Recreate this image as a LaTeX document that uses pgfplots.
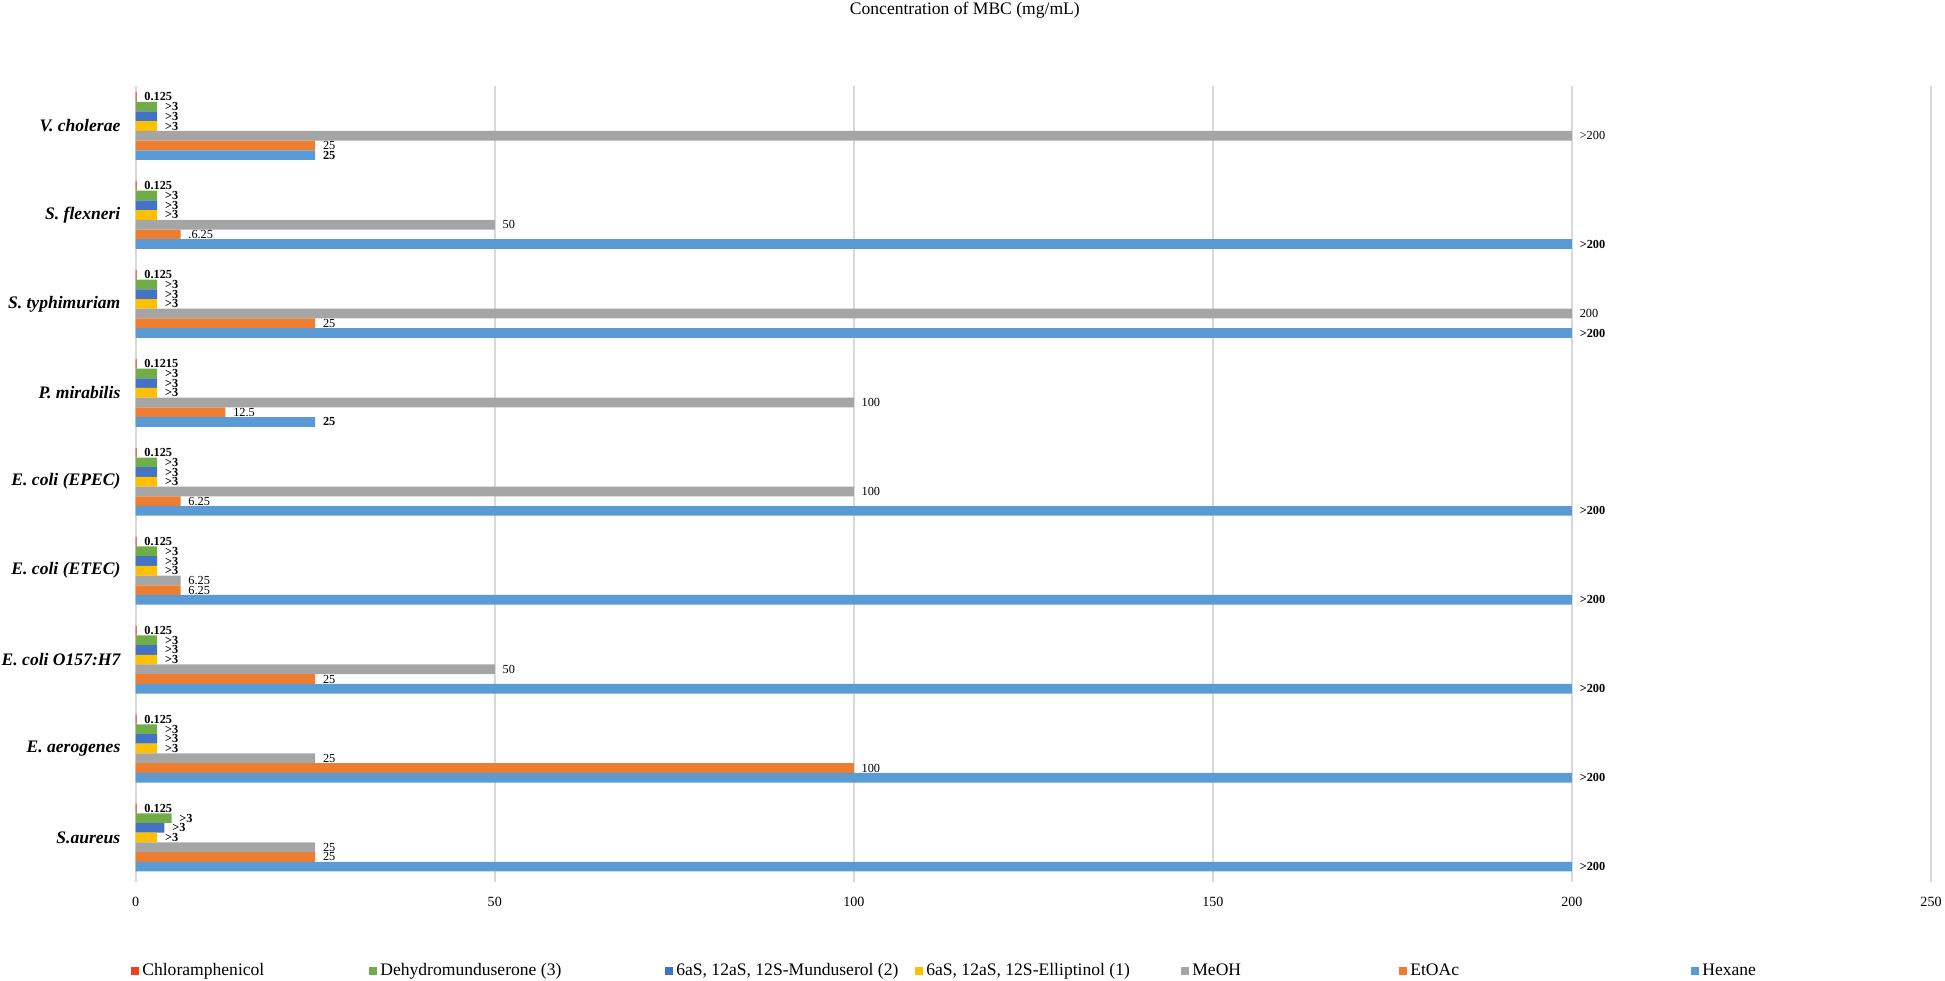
\documentclass[border=0pt]{standalone}
\usepackage{fontspec}
\setmainfont{Liberation Serif}
\usepackage{pgfplots}
\usepackage{pgfplotstable}
\pgfplotsset{compat=1.18}
\definecolor{hexc}{HTML}{5B9BD5}
\definecolor{etoc}{HTML}{ED7D31}
\definecolor{meoc}{HTML}{A5A5A5}
\definecolor{ellc}{HTML}{FFC000}
\definecolor{munc}{HTML}{4472C4}
\definecolor{dehc}{HTML}{70AD47}
\definecolor{chlc}{HTML}{F0401C}
\definecolor{gridc}{HTML}{D9D9D9}

% MBC values, mg/mL (">200" drawn at 200, ">3" drawn at bar length)
\pgfplotstableread{
y hex hexl eto etol meo meol ell elll mun munl deh dehl chl chll
0 200 >200 25 25 25 25 3 >3 4 >3 5 >3 0.125 0.125
1 200 >200 100 100 25 25 3 >3 3 >3 3 >3 0.125 0.125
2 200 >200 25 25 50 50 3 >3 3 >3 3 >3 0.125 0.125
3 200 >200 6.25 6.25 6.25 6.25 3 >3 3 >3 3 >3 0.125 0.125
4 200 >200 6.25 6.25 100 100 3 >3 3 >3 3 >3 0.125 0.125
5 25 25 12.5 12.5 100 100 3 >3 3 >3 3 >3 0.125 0.1215
6 200 >200 25 25 200 200 3 >3 3 >3 3 >3 0.125 0.125
7 200 >200 6.25 .6.25 50 50 3 >3 3 >3 3 >3 0.125 0.125
8 25 25 25 25 200 >200 3 >3 3 >3 3 >3 0.125 0.125
}\mic

\begin{document}
\begin{tikzpicture}
\begin{axis}[name=ax, scale only axis, width=359.06mm, height=159.2mm,
xbar=0pt, bar width=1.94mm,
xmin=0, xmax=250, ymin=-0.5, ymax=8.45,
xtick={0,50,...,250}, ytick={0,...,8},
yticklabels={S.aureus, E. aerogenes, E. coli O157:H7, E. coli (ETEC), E. coli (EPEC), P. mirabilis, S. typhimuriam, S. flexneri, V. cholerae},
axis line style={draw=none}, major tick length=0pt,
xmajorgrids, grid style={draw=gridc, line width=0.35mm},
/pgf/number format/assume math mode=true,
xticklabel style={font=\fontsize{8}{9}\selectfont, anchor=center, inner sep=0pt, yshift=-4mm},
yticklabel style={font=\fontsize{10}{12}\selectfont\bfseries\itshape, anchor=east, inner sep=0pt, xshift=-3mm},
nodes near coords, point meta=explicit symbolic,
every node near coord/.append style={anchor=west, inner sep=0pt, xshift=1.5mm, font=\fontsize{7}{8}\selectfont},
clip=false,
title={Concentration of MBC (mg/mL)},
title style={at={(0.5,1)}, anchor=center, xshift=-13.7mm, yshift=13mm, font=\fontsize{10}{12}\selectfont},
legend columns=7,
legend style={at={(0,0)}, anchor=west, xshift=-0.94mm, yshift=-17.8mm, draw=none, fill=none,
  inner sep=0pt, column sep=0pt, nodes={inner sep=0pt}, font=\fontsize{10}{12}\selectfont},
legend image code/.code={\fill[#1] (0mm,-0.8mm) rectangle (1.6mm,0.8mm);}
]
\addplot[fill=chlc, draw=none, bar shift=5.82mm, every node near coord/.append style={font=\fontsize{7}{8}\selectfont\bfseries}]
  table[x=chl, y=y, meta=chll] {\mic};
\addlegendentry{\hspace{0.6mm}\makebox[45.4mm][l]{Chloramphenicol}}
\addplot[fill=dehc, draw=none, bar shift=3.88mm, every node near coord/.append style={font=\fontsize{7}{8}\selectfont\bfseries}]
  table[x=deh, y=y, meta=dehl] {\mic};
\addlegendentry{\hspace{0.6mm}\makebox[57.0mm][l]{Dehydromunduserone (3)}}
\addplot[fill=munc, draw=none, bar shift=1.94mm, every node near coord/.append style={font=\fontsize{7}{8}\selectfont\bfseries}]
  table[x=mun, y=y, meta=munl] {\mic};
\addlegendentry{\hspace{0.6mm}\makebox[47.8mm][l]{6aS, 12aS, 12S-Munduserol (2)}}
\addplot[fill=ellc, draw=none, bar shift=0mm, every node near coord/.append style={font=\fontsize{7}{8}\selectfont\bfseries}]
  table[x=ell, y=y, meta=elll] {\mic};
\addlegendentry{\hspace{0.6mm}\makebox[51.0mm][l]{6aS, 12aS, 12S-Elliptinol (1)}}
\addplot[fill=meoc, draw=none, bar shift=-1.94mm]
  table[x=meo, y=y, meta=meol] {\mic};
\addlegendentry{\hspace{0.6mm}\makebox[41.4mm][l]{MeOH}}
\addplot[fill=etoc, draw=none, bar shift=-3.88mm]
  table[x=eto, y=y, meta=etol] {\mic};
\addlegendentry{\hspace{0.6mm}\makebox[56.2mm][l]{EtOAc}}
\addplot[fill=hexc, draw=none, bar shift=-5.82mm, every node near coord/.append style={font=\fontsize{7}{8}\selectfont\bfseries}]
  table[x=hex, y=y, meta=hexl] {\mic};
\addlegendentry{\hspace{0.6mm}Hexane}
\end{axis}
\pgfresetboundingbox
\path ([xshift=-27.14mm,yshift=-19.8mm]ax.south west) rectangle ([xshift=2.8mm,yshift=17.2mm]ax.north east);
\end{tikzpicture}
\end{document}
